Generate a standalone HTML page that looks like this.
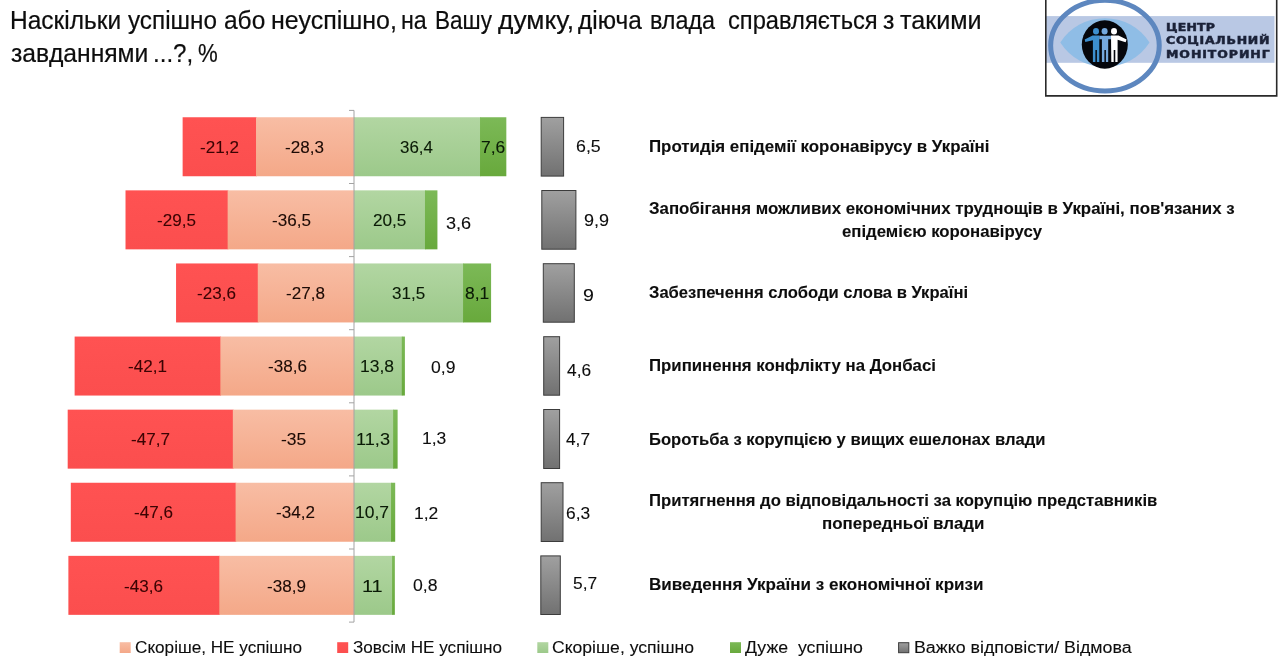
<!DOCTYPE html>
<html lang="uk">
<head>
<meta charset="utf-8">
<title>Наскільки успішно діюча влада справляється з завданнями</title>
<style>
html,body{margin:0;padding:0;background:#fff}
body{width:1280px;height:670px;position:relative;overflow:hidden;font-family:"Liberation Sans",sans-serif;color:#0d0d0d}
.t{position:absolute;white-space:pre;line-height:1;margin:0}
#logo{position:absolute;left:1040px;top:0;width:240px;height:100px}
#chart{position:absolute;left:0;top:0}
h1{margin:0;font-size:inherit;font-weight:inherit;height:0}
</style>
</head>
<body>
<svg id="chart" width="1280" height="670" viewBox="0 0 1280 670"><defs><linearGradient id="red" x1="0" y1="0" x2="0" y2="1"><stop offset="0" stop-color="#ff5252"/><stop offset="1" stop-color="#fb4e4e"/></linearGradient><linearGradient id="sal" x1="0" y1="0" x2="0" y2="1"><stop offset="0" stop-color="#f8bda4"/><stop offset="1" stop-color="#f4a888"/></linearGradient><linearGradient id="lg" x1="0" y1="0" x2="0" y2="1"><stop offset="0" stop-color="#b2d6a2"/><stop offset="1" stop-color="#9cc98a"/></linearGradient><linearGradient id="dg" x1="0" y1="0" x2="0" y2="1"><stop offset="0" stop-color="#7cb957"/><stop offset="1" stop-color="#68a93c"/></linearGradient><linearGradient id="gr" x1="0" y1="0" x2="0" y2="1"><stop offset="0" stop-color="#a0a0a0"/><stop offset="1" stop-color="#717171"/></linearGradient></defs><rect x="182.63" y="117.25" width="74.09" height="59.00" fill="url(#red)"/>
<rect x="256.03" y="117.25" width="98.67" height="59.00" fill="url(#sal)"/>
<rect x="354.00" y="117.25" width="126.72" height="59.00" fill="url(#lg)"/>
<rect x="480.02" y="117.25" width="26.31" height="59.00" fill="url(#dg)"/>
<rect x="125.51" y="190.35" width="102.83" height="59.00" fill="url(#red)"/>
<rect x="227.64" y="190.35" width="127.06" height="59.00" fill="url(#sal)"/>
<rect x="354.00" y="190.35" width="71.67" height="59.00" fill="url(#lg)"/>
<rect x="424.97" y="190.35" width="12.46" height="59.00" fill="url(#dg)"/>
<rect x="176.05" y="263.45" width="82.40" height="59.00" fill="url(#red)"/>
<rect x="257.76" y="263.45" width="96.94" height="59.00" fill="url(#sal)"/>
<rect x="354.00" y="263.45" width="109.75" height="59.00" fill="url(#lg)"/>
<rect x="463.05" y="263.45" width="28.04" height="59.00" fill="url(#dg)"/>
<rect x="74.62" y="336.55" width="146.45" height="59.00" fill="url(#red)"/>
<rect x="220.37" y="336.55" width="134.33" height="59.00" fill="url(#sal)"/>
<rect x="354.00" y="336.55" width="48.48" height="59.00" fill="url(#lg)"/>
<rect x="401.78" y="336.55" width="3.12" height="59.00" fill="url(#dg)"/>
<rect x="67.69" y="409.65" width="165.84" height="59.00" fill="url(#red)"/>
<rect x="232.83" y="409.65" width="121.87" height="59.00" fill="url(#sal)"/>
<rect x="354.00" y="409.65" width="39.82" height="59.00" fill="url(#lg)"/>
<rect x="393.12" y="409.65" width="4.50" height="59.00" fill="url(#dg)"/>
<rect x="70.81" y="482.75" width="165.49" height="59.00" fill="url(#red)"/>
<rect x="235.60" y="482.75" width="119.10" height="59.00" fill="url(#sal)"/>
<rect x="354.00" y="482.75" width="37.74" height="59.00" fill="url(#lg)"/>
<rect x="391.04" y="482.75" width="4.15" height="59.00" fill="url(#dg)"/>
<rect x="68.38" y="555.85" width="151.64" height="59.00" fill="url(#red)"/>
<rect x="219.33" y="555.85" width="135.37" height="59.00" fill="url(#sal)"/>
<rect x="354.00" y="555.85" width="38.78" height="59.00" fill="url(#lg)"/>
<rect x="392.08" y="555.85" width="2.77" height="59.00" fill="url(#dg)"/>
<path d="M354.00 110.40V622.10M349.00 110.40H354.00M349.00 183.50H354.00M349.00 256.60H354.00M349.00 329.70H354.00M349.00 402.80H354.00M349.00 475.90H354.00M349.00 549.00H354.00M349.00 622.10H354.00" fill="none" stroke="#a3a3a3" stroke-width="1"/>
<rect x="541.20" y="117.40" width="22.40" height="58.70" fill="url(#gr)" stroke="#3c3c3c" stroke-width="1"/>
<rect x="541.80" y="190.50" width="34.10" height="58.70" fill="url(#gr)" stroke="#3c3c3c" stroke-width="1"/>
<rect x="543.30" y="263.70" width="31.00" height="58.50" fill="url(#gr)" stroke="#3c3c3c" stroke-width="1"/>
<rect x="543.70" y="336.70" width="15.90" height="58.50" fill="url(#gr)" stroke="#3c3c3c" stroke-width="1"/>
<rect x="543.70" y="409.50" width="15.90" height="59.00" fill="url(#gr)" stroke="#3c3c3c" stroke-width="1"/>
<rect x="541.20" y="482.70" width="21.80" height="58.80" fill="url(#gr)" stroke="#3c3c3c" stroke-width="1"/>
<rect x="540.80" y="555.90" width="19.50" height="58.60" fill="url(#gr)" stroke="#3c3c3c" stroke-width="1"/>
<rect x="119.70" y="642.20" width="11.00" height="10.80" fill="url(#sal)"/>
<rect x="337.20" y="642.20" width="11.00" height="10.80" fill="url(#red)"/>
<rect x="537.30" y="642.20" width="11.00" height="10.80" fill="url(#lg)"/>
<rect x="730.00" y="642.20" width="11.00" height="10.80" fill="url(#dg)"/>
<rect x="898.60" y="642.70" width="10.20" height="10.00" fill="url(#gr)" stroke="#3c3c3c" stroke-width="1"/></svg>


<svg id="logo" viewBox="1040 0 240 100" width="240" height="100">
<rect x="1046" y="16.1" width="228.5" height="46.7" fill="#b9c8e4"/>
<path d="M1060.3 42.5 A53 53 0 0 1 1149.5 42.5 A53 53 0 0 1 1060.3 42.5Z" fill="#8fbde6"/>
<ellipse cx="1104.95" cy="45.6" rx="54.3" ry="45.3" fill="none" stroke="#5d87bf" stroke-width="5"/>
<ellipse cx="1104.8" cy="44.5" rx="23" ry="24.2" fill="#05070c"/>
<g fill="#3d8fce"><ellipse cx="1096" cy="31.2" rx="3" ry="3.3"/><path d="M1084.7 39.6 L1092.6 35.6 H1099.3 V62 H1096.9 V50 H1095.4 V62 H1092.9 V40.2 L1085.3 42Z"/></g>
<g fill="#75a8dc"><ellipse cx="1104.6" cy="31.2" rx="3" ry="3.3"/><path d="M1099.3 35.8 H1111 V39.2 H1108.2 V62 H1105.9 V50 H1104.4 V62 H1101.9 V39.2 H1099.3Z"/></g>
<g fill="#ffffff"><ellipse cx="1114" cy="31.2" rx="3" ry="3.3"/><path d="M1111 35.6 H1118.5 L1126.6 39.6 L1125.6 42.2 L1117.6 39.8 V62 H1115.3 V50 H1113.7 V62 H1111.3Z"/></g>
<path d="M1045.8 0 V95.9 H1276.7 V0" fill="none" stroke="#2a2a2a" stroke-width="1.6"/>
</svg>

<h1><span class="t" id="t0" style="left:10.25px;top:8.00px;font-size:25.8px;transform:scaleX(0.9497);transform-origin:0 0;-webkit-text-stroke:0.2px #0d0d0d">Наскільки</span> <span class="t" id="t1" style="left:128.30px;top:8.00px;font-size:25.8px;transform:scaleX(0.9414);transform-origin:0 0;-webkit-text-stroke:0.2px #0d0d0d">успішно</span> <span class="t" id="t2" style="left:223.50px;top:8.00px;font-size:25.8px;transform:scaleX(0.9496);transform-origin:0 0;-webkit-text-stroke:0.2px #0d0d0d">або</span> <span class="t" id="t3" style="left:270.55px;top:8.00px;font-size:25.8px;transform:scaleX(0.9688);transform-origin:0 0;-webkit-text-stroke:0.2px #0d0d0d">неуспішно,</span> <span class="t" id="t4" style="left:400.80px;top:8.00px;font-size:25.8px;transform:scaleX(0.9016);transform-origin:0 0;-webkit-text-stroke:0.2px #0d0d0d">на</span> <span class="t" id="t5" style="left:434.90px;top:8.00px;font-size:25.8px;transform:scaleX(0.8748);transform-origin:0 0;-webkit-text-stroke:0.2px #0d0d0d">Вашу</span> <span class="t" id="t6" style="left:497.90px;top:8.00px;font-size:25.8px;transform:scaleX(1.0223);transform-origin:0 0;-webkit-text-stroke:0.2px #0d0d0d">думку,</span> <span class="t" id="t7" style="left:577.70px;top:8.00px;font-size:25.8px;transform:scaleX(0.9472);transform-origin:0 0;-webkit-text-stroke:0.2px #0d0d0d">діюча</span> <span class="t" id="t8" style="left:650.20px;top:8.00px;font-size:25.8px;transform:scaleX(0.9049);transform-origin:0 0;-webkit-text-stroke:0.2px #0d0d0d">влада</span> <span class="t" id="t9" style="left:728.15px;top:8.00px;font-size:25.8px;transform:scaleX(0.9185);transform-origin:0 0;-webkit-text-stroke:0.2px #0d0d0d">справляється</span> <span class="t" id="t10" style="left:883.10px;top:8.00px;font-size:25.8px;transform:scaleX(0.9616);transform-origin:0 0;-webkit-text-stroke:0.2px #0d0d0d">з</span> <span class="t" id="t11" style="left:900.30px;top:8.00px;font-size:25.8px;transform:scaleX(0.9753);transform-origin:0 0;-webkit-text-stroke:0.2px #0d0d0d">такими</span> <span class="t" id="t12" style="left:10.70px;top:41.00px;font-size:25.8px;transform:scaleX(0.9567);transform-origin:0 0;-webkit-text-stroke:0.2px #0d0d0d">завданнями</span> <span class="t" id="t13" style="left:152.50px;top:41.00px;font-size:25.8px;transform:scaleX(0.9352);transform-origin:0 0;-webkit-text-stroke:0.2px #0d0d0d">...?,</span> <span class="t" id="t14" style="left:197.80px;top:41.00px;font-size:25.8px;transform:scaleX(0.8606);transform-origin:0 0;-webkit-text-stroke:0.2px #0d0d0d">%</span></h1>
<div class="t" id="t15" style="left:649.00px;top:139.00px;font-size:16px;font-weight:700;transform:scaleX(1.0542);transform-origin:0 0;-webkit-text-stroke:0.1px #0d0d0d">Протидія епідемії коронавірусу в Україні</div>
<div class="t" id="t16" style="left:649.00px;top:200.80px;font-size:16px;font-weight:700;transform:scaleX(1.0524);transform-origin:0 0;-webkit-text-stroke:0.1px #0d0d0d">Запобігання можливих економічних труднощів в Україні, пов'язаних з</div>
<div class="t" id="t17" style="left:841.70px;top:224.10px;font-size:16px;font-weight:700;transform:scaleX(1.0479);transform-origin:0 0;-webkit-text-stroke:0.1px #0d0d0d">епідемією коронавірусу</div>
<div class="t" id="t18" style="left:649.00px;top:285.20px;font-size:16px;font-weight:700;transform:scaleX(1.0353);transform-origin:0 0;-webkit-text-stroke:0.1px #0d0d0d">Забезпечення слободи слова в Україні</div>
<div class="t" id="t19" style="left:649.00px;top:358.10px;font-size:16px;font-weight:700;transform:scaleX(1.0491);transform-origin:0 0;-webkit-text-stroke:0.1px #0d0d0d">Припинення конфлікту на Донбасі</div>
<div class="t" id="t20" style="left:649.00px;top:431.60px;font-size:16px;font-weight:700;transform:scaleX(1.0385);transform-origin:0 0;-webkit-text-stroke:0.1px #0d0d0d">Боротьба з корупцією у вищих ешелонах влади</div>
<div class="t" id="t21" style="left:649.00px;top:492.70px;font-size:16px;font-weight:700;transform:scaleX(1.0422);transform-origin:0 0;-webkit-text-stroke:0.1px #0d0d0d">Притягнення до відповідальності за корупцію представників</div>
<div class="t" id="t22" style="left:821.80px;top:515.90px;font-size:16px;font-weight:700;transform:scaleX(1.0565);transform-origin:0 0;-webkit-text-stroke:0.1px #0d0d0d">попередньої влади</div>
<div class="t" id="t23" style="left:649.00px;top:577.40px;font-size:16px;font-weight:700;transform:scaleX(1.0652);transform-origin:0 0;-webkit-text-stroke:0.1px #0d0d0d">Виведення України з економічної кризи</div>
<div class="t" id="t24" style="left:135.00px;top:640.00px;font-size:16px;transform:scaleX(1.0712);transform-origin:0 0;-webkit-text-stroke:0.1px #0d0d0d">Скоріше, НЕ успішно</div>
<div class="t" id="t25" style="left:352.50px;top:640.00px;font-size:16px;transform:scaleX(1.0703);transform-origin:0 0;-webkit-text-stroke:0.1px #0d0d0d">Зовсім НЕ успішно</div>
<div class="t" id="t26" style="left:552.10px;top:640.00px;font-size:16px;transform:scaleX(1.0981);transform-origin:0 0;-webkit-text-stroke:0.1px #0d0d0d">Скоріше, успішно</div>
<div class="t" id="t27" style="left:745.00px;top:640.00px;font-size:16px;transform:scaleX(1.106);transform-origin:0 0;-webkit-text-stroke:0.1px #0d0d0d">Дуже  успішно</div>
<div class="t" id="t28" style="left:913.85px;top:640.00px;font-size:16px;transform:scaleX(1.1123);transform-origin:0 0;-webkit-text-stroke:0.1px #0d0d0d">Важко відповісти/ Відмова</div>
<div class="t" id="t29" style="left:200.31px;top:139.95px;font-size:16px;color:#3a0303;transform:scaleX(1.0668);transform-origin:0 0;-webkit-text-stroke:0.1px #3a0303">-21,2</div>
<div class="t" id="t30" style="left:285.36px;top:139.95px;font-size:16px;color:#1c0a05;transform:scaleX(1.0668);transform-origin:0 0;-webkit-text-stroke:0.1px #1c0a05">-28,3</div>
<div class="t" id="t31" style="left:400.10px;top:139.95px;font-size:16px;color:#0a1a06;transform:scaleX(1.0558);transform-origin:0 0;-webkit-text-stroke:0.1px #0a1a06">36,4</div>
<div class="t" id="t32" style="left:480.82px;top:139.95px;font-size:16px;color:#0a1a06;transform:scaleX(1.0891);transform-origin:0 0;-webkit-text-stroke:0.1px #0a1a06">7,6</div>
<div class="t" id="t33" style="left:157.04px;top:213.05px;font-size:16px;color:#3a0303;transform:scaleX(1.0668);transform-origin:0 0;-webkit-text-stroke:0.1px #3a0303">-29,5</div>
<div class="t" id="t34" style="left:271.78px;top:213.05px;font-size:16px;color:#1c0a05;transform:scaleX(1.0668);transform-origin:0 0;-webkit-text-stroke:0.1px #1c0a05">-36,5</div>
<div class="t" id="t35" style="left:373.03px;top:213.05px;font-size:16px;color:#0a1a06;transform:scaleX(1.0731);transform-origin:0 0;-webkit-text-stroke:0.1px #0a1a06">20,5</div>
<div class="t" id="t36" style="left:446.15px;top:215.90px;font-size:16px;transform:scaleX(1.1293);transform-origin:0 0;-webkit-text-stroke:0.1px #0d0d0d">3,6</div>
<div class="t" id="t37" style="left:197.04px;top:286.15px;font-size:16px;color:#3a0303;transform:scaleX(1.0668);transform-origin:0 0;-webkit-text-stroke:0.1px #3a0303">-23,6</div>
<div class="t" id="t38" style="left:285.96px;top:286.15px;font-size:16px;color:#1c0a05;transform:scaleX(1.0668);transform-origin:0 0;-webkit-text-stroke:0.1px #1c0a05">-27,8</div>
<div class="t" id="t39" style="left:391.65px;top:286.15px;font-size:16px;color:#0a1a06;transform:scaleX(1.0644);transform-origin:0 0;-webkit-text-stroke:0.1px #0a1a06">31,5</div>
<div class="t" id="t40" style="left:464.52px;top:286.15px;font-size:16px;color:#0a1a06;transform:scaleX(1.0899);transform-origin:0 0;-webkit-text-stroke:0.1px #0a1a06">8,1</div>
<div class="t" id="t41" style="left:127.80px;top:359.25px;font-size:16px;color:#3a0303;transform:scaleX(1.0668);transform-origin:0 0;-webkit-text-stroke:0.1px #3a0303">-42,1</div>
<div class="t" id="t42" style="left:267.87px;top:359.25px;font-size:16px;color:#1c0a05;transform:scaleX(1.0668);transform-origin:0 0;-webkit-text-stroke:0.1px #1c0a05">-38,6</div>
<div class="t" id="t43" style="left:360.24px;top:359.25px;font-size:16px;color:#0a1a06;transform:scaleX(1.091);transform-origin:0 0;-webkit-text-stroke:0.1px #0a1a06">13,8</div>
<div class="t" id="t44" style="left:430.50px;top:359.80px;font-size:16px;transform:scaleX(1.0972);transform-origin:0 0;-webkit-text-stroke:0.1px #0d0d0d">0,9</div>
<div class="t" id="t45" style="left:131.11px;top:432.35px;font-size:16px;color:#3a0303;transform:scaleX(1.0668);transform-origin:0 0;-webkit-text-stroke:0.1px #3a0303">-47,7</div>
<div class="t" id="t46" style="left:281.04px;top:432.35px;font-size:16px;color:#1c0a05;transform:scaleX(1.091);transform-origin:0 0;-webkit-text-stroke:0.1px #1c0a05">-35</div>
<div class="t" id="t47" style="left:356.26px;top:432.35px;font-size:16px;color:#0a1a06;transform:scaleX(1.1342);transform-origin:0 0;-webkit-text-stroke:0.1px #0a1a06">11,3</div>
<div class="t" id="t48" style="left:421.90px;top:430.90px;font-size:16px;transform:scaleX(1.0927);transform-origin:0 0;-webkit-text-stroke:0.1px #0d0d0d">1,3</div>
<div class="t" id="t49" style="left:133.94px;top:505.45px;font-size:16px;color:#3a0303;transform:scaleX(1.0668);transform-origin:0 0;-webkit-text-stroke:0.1px #3a0303">-47,6</div>
<div class="t" id="t50" style="left:275.72px;top:505.45px;font-size:16px;color:#1c0a05;transform:scaleX(1.0668);transform-origin:0 0;-webkit-text-stroke:0.1px #1c0a05">-34,2</div>
<div class="t" id="t51" style="left:355.14px;top:505.45px;font-size:16px;color:#0a1a06;transform:scaleX(1.091);transform-origin:0 0;-webkit-text-stroke:0.1px #0a1a06">10,7</div>
<div class="t" id="t52" style="left:414.10px;top:505.50px;font-size:16px;transform:scaleX(1.0914);transform-origin:0 0;-webkit-text-stroke:0.1px #0d0d0d">1,2</div>
<div class="t" id="t53" style="left:123.90px;top:578.55px;font-size:16px;color:#3a0303;transform:scaleX(1.0668);transform-origin:0 0;-webkit-text-stroke:0.1px #3a0303">-43,6</div>
<div class="t" id="t54" style="left:267.32px;top:578.55px;font-size:16px;color:#1c0a05;transform:scaleX(1.0668);transform-origin:0 0;-webkit-text-stroke:0.1px #1c0a05">-38,9</div>
<div class="t" id="t55" style="left:361.92px;top:578.55px;font-size:16px;color:#0a1a06;transform:scaleX(1.2442);transform-origin:0 0;-webkit-text-stroke:0.1px #0a1a06">11</div>
<div class="t" id="t56" style="left:413.20px;top:578.40px;font-size:16px;transform:scaleX(1.1013);transform-origin:0 0;-webkit-text-stroke:0.1px #0d0d0d">0,8</div>
<div class="t" id="t57" style="left:575.70px;top:137.70px;font-size:16.5px;transform:scaleX(1.0766);transform-origin:0 0;-webkit-text-stroke:0.1px #0d0d0d">6,5</div>
<div class="t" id="t58" style="left:583.50px;top:212.10px;font-size:16.5px;transform:scaleX(1.0921);transform-origin:0 0;-webkit-text-stroke:0.1px #0d0d0d">9,9</div>
<div class="t" id="t59" style="left:582.80px;top:286.80px;font-size:16.5px;transform:scaleX(1.1891);transform-origin:0 0;-webkit-text-stroke:0.1px #0d0d0d">9</div>
<div class="t" id="t60" style="left:566.70px;top:362.30px;font-size:16.5px;transform:scaleX(1.0501);transform-origin:0 0;-webkit-text-stroke:0.1px #0d0d0d">4,6</div>
<div class="t" id="t61" style="left:565.90px;top:431.40px;font-size:16.5px;transform:scaleX(1.0461);transform-origin:0 0;-webkit-text-stroke:0.1px #0d0d0d">4,7</div>
<div class="t" id="t62" style="left:565.70px;top:505.10px;font-size:16.5px;transform:scaleX(1.0525);transform-origin:0 0;-webkit-text-stroke:0.1px #0d0d0d">6,3</div>
<div class="t" id="t63" style="left:572.65px;top:575.30px;font-size:16.5px;transform:scaleX(1.0525);transform-origin:0 0;-webkit-text-stroke:0.1px #0d0d0d">5,7</div>
<div class="t" id="t64" style="left:1166.00px;top:21.80px;font-size:10.4px;letter-spacing:0.152px;font-weight:700;color:#1b2238;transform:scaleX(1.2);transform-origin:0 0;-webkit-text-stroke:0.5px #1b2238;font-family:'DejaVu Sans','Liberation Sans',sans-serif">ЦЕНТР</div>
<div class="t" id="t65" style="left:1166.00px;top:35.40px;font-size:10.4px;letter-spacing:0.622px;font-weight:700;color:#1b2238;transform:scaleX(1.2);transform-origin:0 0;-webkit-text-stroke:0.5px #1b2238;font-family:'DejaVu Sans','Liberation Sans',sans-serif">СОЦІАЛЬНИЙ</div>
<div class="t" id="t66" style="left:1166.00px;top:48.90px;font-size:10.4px;letter-spacing:0.782px;font-weight:700;color:#1b2238;transform:scaleX(1.2);transform-origin:0 0;-webkit-text-stroke:0.5px #1b2238;font-family:'DejaVu Sans','Liberation Sans',sans-serif">МОНІТОРИНГ</div>
</body>
</html>
